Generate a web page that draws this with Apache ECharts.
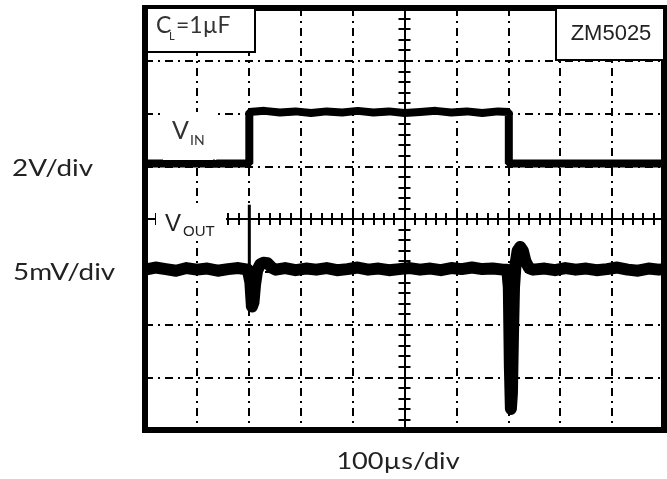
<!DOCTYPE html>
<html>
<head>
<meta charset="utf-8">
<script src="https://cdn.jsdelivr.net/npm/echarts@6/dist/echarts.min.js"></script>
<style>
  html, body { margin: 0; padding: 0; background: #fff; }
  #chart { width: 667px; height: 479px; }
</style>
</head>
<body>
<div id="chart"></div>
<script>
// time in divisions (100µs/div), centre of screen = 0
// levels in divisions, centre line = 0

// V_IN (2V/div)
const vinT = [-5, -4.0, -3.66, -3.64, -3.62, -2.99, -2.99, -2.7, -2.4, -2.1, -1.8, -1.5, -1.2, -0.9, -0.6, -0.3, 0,
  0.3, 0.6, 0.9, 1.2, 1.5, 1.8, 2.01, 2.01, 3.0, 3.21, 3.23, 3.25, 4.2, 5];
const vinV = [1.05, 1.05, 1.05, 1.0, 1.05, 1.05, 2.03, 2.05, 2.02, 2.04, 2.01, 2.04, 2.02, 2.05, 2.02, 2.04, 2.01,
  2.03, 2.05, 2.02, 2.04, 2.01, 2.04, 2.03, 1.05, 1.05, 1.05, 1.1, 1.05, 1.05, 1.05];

// V_OUT (5mV/div)
const voutT = [-5, -4.8, -4.6, -4.4, -4.2, -4.0, -3.8, -3.6, -3.4, -3.2, -3.02,
  -2.97, -2.94, -2.91, -2.88, -2.84, -2.78, -2.72, -2.64, -2.56, -2.48,
  -2.3, -2.1, -1.9, -1.7, -1.5, -1.3, -1.1, -0.9, -0.7, -0.5, -0.3, -0.1,
  0.1, 0.3, 0.5, 0.7, 0.9, 1.1, 1.3, 1.5, 1.7, 1.9, 1.98,
  2.01, 2.03, 2.05, 2.07, 2.09, 2.11, 2.14, 2.18, 2.23, 2.28, 2.33, 2.4, 2.48,
  2.7, 2.9, 3.1, 3.3, 3.5, 3.7, 3.9, 4.1, 4.3, 4.5, 4.7, 4.9, 5];
const voutV = [-0.96, -0.92, -0.95, -0.98, -0.93, -0.96, -0.94, -0.98, -0.95, -0.93, -0.96,
  -1.2, -1.66, -1.58, -1.25, -0.98, -0.86, -0.83, -0.84, -0.92, -0.96,
  -0.93, -0.97, -0.94, -0.96, -0.93, -0.97, -0.95, -0.92, -0.96, -0.94, -0.97, -0.95,
  -0.93, -0.96, -0.94, -0.97, -0.93, -0.95, -0.92, -0.95, -0.94, -0.96, -0.96,
  -1.3, -2.8, -3.6, -3.3, -2.2, -1.3, -0.85, -0.6, -0.53, -0.6, -0.8, -0.93, -0.96,
  -0.94, -0.97, -0.93, -0.96, -0.94, -0.97, -0.95, -0.92, -0.96, -0.98, -0.94, -0.96, -0.95];

// thin spike on V_OUT at the rising edge
const spikeT = [-2.99, -2.99];
const spikeV = [-0.96, 0.27];

const zip = (t, v) => t.map((x, i) => [x, v[i]]);

const dashDot = [8, 5, 2, 5];

const axisCommon = {
  type: 'value',
  interval: 1,
  axisLine: { show: true, onZero: true, onZeroAxisIndex: 0, lineStyle: { color: '#000', width: 2 } },
  axisTick: { show: true, length: 6, lineStyle: { color: '#000', width: 2 } },
  minorTick: { show: true, splitNumber: 5, length: 6, lineStyle: { color: '#000', width: 2 } },
  axisLabel: { show: false }
};

const chart = echarts.init(document.getElementById('chart'), null, { renderer: 'canvas' });

const txt = (x, y, text, size, family, extra) => ({
  type: 'text', x: x, y: y, z: 110,
  style: Object.assign({ text: text, fontSize: size, fontFamily: family, fill: '#222',
    textVerticalAlign: 'middle', verticalAlign: 'middle' }, extra || {})
});

const option = {
  animation: false,
  backgroundColor: '#fff',
  grid: { left: 145, top: 8, width: 519, height: 422, show: true, borderColor: '#000', borderWidth: 6 },
  xAxis: [
    Object.assign({}, axisCommon, {
      min: -5, max: 5, position: 'bottom',
      splitLine: { show: true, lineStyle: { color: '#000', width: 2, type: dashDot } }
    }),
    Object.assign({}, axisCommon, { min: -5, max: 5, position: 'top', splitLine: { show: false } })
  ],
  yAxis: [
    Object.assign({}, axisCommon, {
      min: -4, max: 4, position: 'left',
      splitLine: { show: true, lineStyle: { color: '#000', width: 2, type: dashDot } }
    }),
    Object.assign({}, axisCommon, { min: -4, max: 4, position: 'right', splitLine: { show: false } })
  ],
  series: [
    {
      name: 'VIN', type: 'line', data: zip(vinT, vinV), showSymbol: false,
      lineStyle: { color: '#000', width: 8 }, z: 5
    },
    {
      name: 'VOUT', type: 'line', data: zip(voutT, voutV), showSymbol: false,
      lineStyle: { color: '#000', width: 12, join: 'round' }, z: 5
    },
    {
      name: 'spike', type: 'line', data: zip(spikeT, spikeV), showSymbol: false,
      lineStyle: { color: '#000', width: 3 }, z: 5
    }
  ],
  graphic: [
    // C_L box
    { type: 'rect', z: 100, shape: { x: 147, y: 8, width: 108, height: 44 },
      style: { fill: '#fff', stroke: '#000', lineWidth: 2 } },
    txt(156, 26, 'C', 23, 'Lato', { fill: '#333' }),
    txt(169, 36, 'L', 11, 'Lato', { fill: '#333' }),
    txt(176, 26, '=1µF', 23, 'Lato', { fill: '#333' }),
    // ZM5025 box
    { type: 'rect', z: 100, shape: { x: 556, y: 8, width: 108, height: 52 },
      style: { fill: '#fff', stroke: '#000', lineWidth: 2 } },
    txt(611, 34, 'ZM5025', 22, 'Liberation Sans', { align: 'center', textAlign: 'center' }),
    // V_IN label
    { type: 'rect', z: 100, shape: { x: 163, y: 112, width: 50, height: 48 }, style: { fill: '#fff' } },
    txt(172, 131, 'V', 25, 'Lato', { fill: '#333' }),
    txt(190, 140, 'IN', 14, 'Lato', { fill: '#333' }),
    // V_OUT label
    { type: 'rect', z: 100, shape: { x: 156, y: 206, width: 70, height: 30 }, style: { fill: '#fff' } },
    txt(165, 224, 'V', 24, 'Liberation Sans'),
    txt(183, 232, 'OUT', 15, 'Liberation Sans'),
    // scale labels
    Object.assign(txt(12, 168, '2V/div', 24, 'Lato'), { scaleX: 1.16 }),
    Object.assign(txt(13, 272, '5mV/div', 24, 'Lato'), { scaleX: 1.16 }),
    Object.assign(txt(398, 461, '100µs/div', 24, 'Lato', { align: 'center', textAlign: 'center' }), { scaleX: 1.13 })
  ]
};

chart.setOption(option);
</script>
</body>
</html>
